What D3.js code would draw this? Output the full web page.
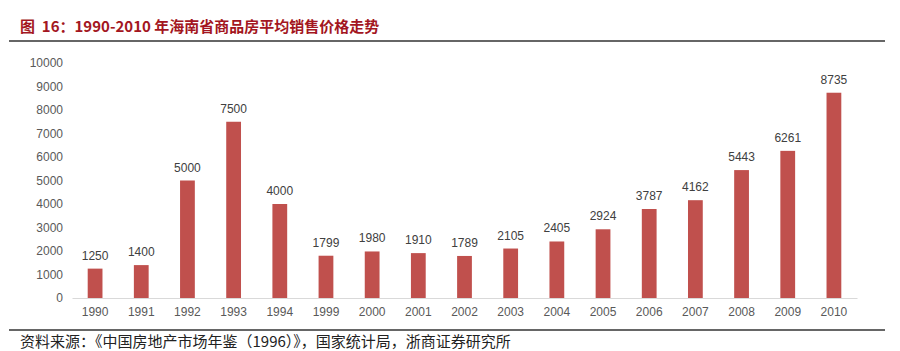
<!DOCTYPE html>
<html>
<head>
<meta charset="utf-8">
<script src="https://cdn.jsdelivr.net/npm/d3@7"></script>
<style>
  body { margin: 0; background: #fff; }
  svg { display: block; overflow: visible; }
</style>
</head>
<body>
<div id="chart"></div>
<script>
const years = ['1990', '1991', '1992', '1993', '1994', '1999', '2000', '2001', '2002',
  '2003', '2004', '2005', '2006', '2007', '2008', '2009', '2010'];
const prices = [1250, 1400, 5000, 7500, 4000, 1799, 1980, 1910, 1789,
  2105, 2405, 2924, 3787, 4162, 5443, 6261, 8735];
const yTicks = [0, 1000, 2000, 3000, 4000, 5000, 6000, 7000, 8000, 9000, 10000];

const width = 900;
const height = 351;
const margin = { top: 63, right: 43, bottom: 53, left: 72 };
const innerWidth = width - margin.left - margin.right;
const innerHeight = height - margin.top - margin.bottom;

const data = years.map((y, i) => ({ year: y, price: prices[i] }));

const xScale = d3.scaleBand()
  .domain(years)
  .range([0, innerWidth])
  .paddingInner(0.68)
  .paddingOuter(0.34);

const yScale = d3.scaleLinear()
  .domain([0, 10000])
  .range([innerHeight, 0]);

const svg = d3.select('#chart')
  .append('svg')
    .attr('width', width)
    .attr('height', height);

// title
svg.append('text')
  .attr('x', 20)
  .attr('y', 32)
  .attr('font-family', '"Noto Sans CJK SC", sans-serif')
  .attr('font-size', 15)
  .attr('font-weight', 'bold')
  .attr('fill', '#a31621')
  .attr('xml:space', 'preserve')
  .text('图  16：1990-2010 年海南省商品房平均销售价格走势');

svg.append('line')
  .attr('x1', 9).attr('x2', 885)
  .attr('y1', 41).attr('y2', 41)
  .attr('stroke', '#333').attr('stroke-width', 1.5);

svg.append('line')
  .attr('x1', 9).attr('x2', 885)
  .attr('y1', 330).attr('y2', 330)
  .attr('stroke', '#333').attr('stroke-width', 1.5);

svg.append('text')
  .attr('x', 20)
  .attr('y', 347)
  .attr('font-family', '"Noto Sans CJK SC", sans-serif')
  .attr('font-size', 15)
  .attr('fill', '#222')
  .text('资料来源：《中国房地产市场年鉴（1996）》，国家统计局，浙商证券研究所');

const inner = svg.append('g')
  .attr('transform', `translate(${margin.left}, ${margin.top})`);

// y axis
const yAxis = d3.axisLeft(yScale)
  .tickValues(yTicks)
  .tickFormat(d3.format('d'))
  .tickSize(0)
  .tickPadding(9);
inner.append('g')
  .attr('class', 'axis axis-y')
  .call(yAxis)
  .attr('font-family', '"Liberation Sans", Arial, sans-serif')
  .attr('font-size', 12)
  .call(g => g.select('.domain').remove())
  .call(g => g.selectAll('text').attr('fill', '#595959'));

// bars
inner.selectAll('.bar')
    .data(data)
  .enter().append('rect')
    .attr('class', 'bar')
    .attr('x', d => xScale(d.year))
    .attr('y', d => yScale(d.price))
    .attr('width', xScale.bandwidth())
    .attr('height', d => innerHeight - yScale(d.price))
    .attr('fill', '#c0504d');

inner.selectAll('.label')
    .data(data)
  .enter().append('text')
    .attr('class', 'label')
    .attr('x', d => xScale(d.year) + xScale.bandwidth() / 2)
    .attr('y', d => yScale(d.price) - 9)
    .attr('text-anchor', 'middle')
    .attr('font-family', '"Liberation Sans", Arial, sans-serif')
    .attr('font-size', 12)
    .attr('fill', '#404040')
    .text(d => d.price);

// x axis
const xAxis = d3.axisBottom(xScale).tickSize(0).tickPadding(9);
inner.append('g')
  .attr('class', 'axis axis-x')
  .attr('transform', `translate(0, ${innerHeight})`)
  .call(xAxis)
  .attr('font-family', '"Liberation Sans", Arial, sans-serif')
  .attr('font-size', 12)
  .call(g => g.select('.domain').attr('stroke', '#d9d9d9'))
  .call(g => g.selectAll('text').attr('fill', '#595959'));
</script>
</body>
</html>
